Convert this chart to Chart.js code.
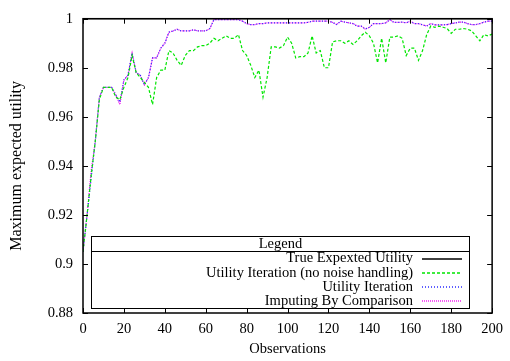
<!DOCTYPE html>
<html>
<head>
<meta charset="utf-8">
<script src="https://cdn.jsdelivr.net/npm/chart.js@4.4.0/dist/chart.umd.min.js"></script>
<style>
  html, body { margin: 0; padding: 0; background: #fff; }
</style>
</head>
<body>
<canvas id="grafico" width="510" height="361"></canvas>
<script>
// Eixo x: observações (a cada 2)
const observacoes = [0, 2, 4, 6, 8, 10, 12, 14, 16, 18, 20, 22, 24, 26, 28, 30, 32, 34, 36, 38,
  40, 42, 44, 46, 48, 50, 52, 54, 56, 58, 60, 62, 64, 66, 68, 70, 72, 74, 76, 78,
  80, 82, 84, 86, 88, 90, 92, 94, 96, 98, 100, 102, 104, 106, 108, 110, 112, 114, 116, 118,
  120, 122, 124, 126, 128, 130, 132, 134, 136, 138, 140, 142, 144, 146, 148, 150, 152, 154, 156, 158,
  160, 162, 164, 166, 168, 170, 172, 174, 176, 178, 180, 182, 184, 186, 188, 190, 192, 194, 196, 198, 200];

const utilidadeReal = [1, 1, 1, 1, 1, 1, 1, 1, 1, 1, 1, 1, 1, 1, 1, 1, 1, 1, 1, 1,
  1, 1, 1, 1, 1, 1, 1, 1, 1, 1, 1, 1, 1, 1, 1, 1, 1, 1, 1, 1,
  1, 1, 1, 1, 1, 1, 1, 1, 1, 1, 1, 1, 1, 1, 1, 1, 1, 1, 1, 1,
  1, 1, 1, 1, 1, 1, 1, 1, 1, 1, 1, 1, 1, 1, 1, 1, 1, 1, 1, 1,
  1, 1, 1, 1, 1, 1, 1, 1, 1, 1, 1, 1, 1, 1, 1, 1, 1, 1, 1, 1, 1];

const semRuido = [0.905, 0.92, 0.936, 0.95, 0.967, 0.972, 0.972, 0.972, 0.968, 0.967,
  0.972, 0.976, 0.985, 0.978, 0.976, 0.974, 0.972, 0.965, 0.976, 0.979,
  0.979, 0.987, 0.986, 0.983, 0.981, 0.985, 0.987, 0.987, 0.9885, 0.989,
  0.989, 0.990, 0.992, 0.991, 0.992, 0.993, 0.992, 0.992, 0.9935, 0.987,
  0.985, 0.981, 0.976, 0.979, 0.968, 0.976, 0.9885, 0.9885, 0.988, 0.989,
  0.9925, 0.990, 0.984, 0.9845, 0.9845, 0.986, 0.993, 0.986, 0.987, 0.980,
  0.980, 0.9905, 0.991, 0.991, 0.990, 0.991, 0.9895, 0.991, 0.993, 0.9945,
  0.993, 0.990, 0.982, 0.992, 0.982, 0.9925, 0.9925, 0.993, 0.992, 0.985,
  0.988, 0.988, 0.983, 0.987, 0.9935, 0.997, 0.9965, 0.997, 0.9965, 0.996,
  0.994, 0.9957, 0.9957, 0.996, 0.9957, 0.995, 0.993, 0.991, 0.9935, 0.993, 0.9937];

const iteracao = [0.905, 0.92, 0.935, 0.95, 0.968, 0.972, 0.972, 0.972, 0.969, 0.966,
  0.975, 0.977, 0.986, 0.978, 0.977, 0.973, 0.976, 0.984, 0.984, 0.988,
  0.990, 0.9945, 0.995, 0.9957, 0.995, 0.995, 0.995, 0.9955, 0.995, 0.995,
  0.995, 0.996, 0.9996, 0.9996, 0.9996, 0.9996, 0.9996, 0.9996, 0.9996, 0.999,
  0.998, 0.9976, 0.9976, 0.998, 0.998, 0.9983, 0.9983, 0.9983, 0.9983, 0.9983,
  0.9983, 0.9983, 0.9983, 0.9983, 0.9983, 0.9985, 0.999, 0.999, 0.999, 0.999,
  0.999, 0.9985, 0.9976, 0.999, 0.9986, 0.9983, 0.998, 0.997, 0.997, 0.9958,
  0.9965, 0.998, 0.998, 0.998, 0.9983, 0.9996, 0.9985, 0.9985, 0.9986, 0.9983,
  0.999, 0.998, 0.998, 0.9975, 0.997, 0.998, 0.9975, 0.9975, 0.9975, 0.9976,
  0.998, 0.9983, 0.9986, 0.9986, 0.998, 0.9976, 0.9976, 0.998, 0.9986, 0.999, 0.999];

const comparacao = [0.905, 0.92, 0.938, 0.95, 0.968, 0.972, 0.972, 0.972, 0.969, 0.965,
  0.975, 0.977, 0.986, 0.978, 0.977, 0.973, 0.976, 0.984, 0.984, 0.988,
  0.990, 0.9945, 0.995, 0.9957, 0.995, 0.995, 0.995, 0.9955, 0.995, 0.995,
  0.995, 0.996, 0.9996, 0.9996, 0.9996, 0.9996, 0.9996, 0.9996, 0.9996, 0.999,
  0.998, 0.9976, 0.9976, 0.998, 0.998, 0.9983, 0.9983, 0.9983, 0.9983, 0.9983,
  0.9983, 0.9983, 0.9983, 0.9983, 0.9983, 0.9985, 0.999, 0.999, 0.999, 0.999,
  0.999, 0.9985, 0.9976, 0.999, 0.9986, 0.9983, 0.998, 0.997, 0.997, 0.9958,
  0.9965, 0.998, 0.998, 0.998, 0.9983, 0.9996, 0.9985, 0.9985, 0.9986, 0.9983,
  0.999, 0.998, 0.998, 0.9975, 0.997, 0.998, 0.9975, 0.9975, 0.9975, 0.9976,
  0.998, 0.9983, 0.9986, 0.9986, 0.998, 0.9976, 0.9976, 0.998, 0.9986, 0.999, 0.999];

const rotulos = ['True Expexted Utility', 'Utility Iteration (no noise handling)', 'Utility Iteration', 'Imputing By Comparison'];
const cores = ['#000000', '#00e600', '#2a2aff', '#f000f0'];
const tracos = [[], [3, 2], [1, 2], [1, 1]];

const ticksX = [0, 20, 40, 60, 80, 100, 120, 140, 160, 180, 200];
const ticksY = [0.88, 0.9, 0.92, 0.94, 0.96, 0.98, 1];
const rotulosY = ['0.88', '0.9', '0.92', '0.94', '0.96', '0.98', '1'];

const fonte = '"Liberation Serif", "Times New Roman", serif';

function pares(valores) {
  return observacoes.map((x, i) => ({ x: x, y: valores[i] }));
}

// Ticks para dentro e moldura fechada, estilo gnuplot
const moldura = {
  id: 'moldura',
  afterDatasetsDraw(chart) {
    const ctx = chart.ctx;
    const a = chart.chartArea;
    const sx = chart.scales.x;
    const sy = chart.scales.y;
    ctx.save();
    ctx.strokeStyle = '#000';
    ctx.lineWidth = 1;
    ctx.setLineDash([]);
    ctx.beginPath();
    ticksX.forEach(v => {
      const px = Math.round(sx.getPixelForValue(v)) + 0.5;
      ctx.moveTo(px, a.bottom); ctx.lineTo(px, a.bottom - 5);
      ctx.moveTo(px, a.top); ctx.lineTo(px, a.top + 5);
    });
    ticksY.forEach(v => {
      const py = Math.round(sy.getPixelForValue(v)) + 0.5;
      ctx.moveTo(a.left, py); ctx.lineTo(a.left + 5, py);
      ctx.moveTo(a.right, py); ctx.lineTo(a.right - 5, py);
    });
    ctx.stroke();
    ctx.lineWidth = 1.5;
    ctx.strokeRect(a.left, a.top, a.right - a.left, a.bottom - a.top);
    ctx.restore();
  }
};

// Caixa de legenda
const legenda = {
  id: 'legenda',
  afterDraw(chart) {
    const ctx = chart.ctx;
    const x0 = 91.5, x1 = 469.5, y0 = 236.5, y1 = 308.5, sep = 251.5;
    ctx.save();
    ctx.fillStyle = '#fff';
    ctx.fillRect(x0, y0, x1 - x0, y1 - y0);
    ctx.strokeStyle = '#000';
    ctx.lineWidth = 1;
    ctx.setLineDash([]);
    ctx.strokeRect(x0, y0, x1 - x0, y1 - y0);
    ctx.beginPath();
    ctx.moveTo(x0, sep); ctx.lineTo(x1, sep);
    ctx.stroke();
    ctx.fillStyle = '#000';
    ctx.font = '14.5px ' + fonte;
    ctx.textBaseline = 'middle';
    ctx.textAlign = 'center';
    ctx.fillText('Legend', (x0 + x1) / 2, 244);
    ctx.textAlign = 'right';
    rotulos.forEach((texto, i) => {
      const y = 258.5 + i * 14.3;
      ctx.fillStyle = '#000';
      ctx.fillText(texto, 413, y);
      ctx.strokeStyle = cores[i];
      ctx.lineWidth = 1.3;
      ctx.setLineDash(tracos[i]);
      ctx.beginPath();
      ctx.moveTo(422, Math.round(y));
      ctx.lineTo(462, Math.round(y));
      ctx.stroke();
    });
    ctx.restore();
  }
};

const series = [utilidadeReal, semRuido, iteracao, comparacao];

new Chart(document.getElementById('grafico'), {
  type: 'line',
  data: {
    datasets: series.map((valores, i) => ({
      label: rotulos[i],
      data: pares(valores),
      borderColor: cores[i],
      borderWidth: 1.2,
      borderDash: tracos[i]
    }))
  },
  options: {
    responsive: false,
    animation: false,
    devicePixelRatio: 1,
    layout: { padding: { left: 0, top: 9, right: 12, bottom: 0 } },
    elements: { point: { radius: 0 }, line: { tension: 0 } },
    plugins: { legend: { display: false }, tooltip: { enabled: false } },
    scales: {
      x: {
        type: 'linear',
        min: 0, max: 200,
        afterBuildTicks: s => { s.ticks = ticksX.map(v => ({ value: v })); },
        afterFit: s => { s.height = 48; },
        grid: { display: false, drawTicks: false },
        border: { display: false },
        ticks: { color: '#000', padding: 7, maxRotation: 0, font: { family: fonte, size: 14.5 } },
        title: { display: true, text: 'Observations', color: '#000', padding: { top: 0, bottom: 3 }, font: { family: fonte, size: 14.5 } }
      },
      y: {
        type: 'linear',
        min: 0.88, max: 1,
        afterBuildTicks: s => { s.ticks = ticksY.map(v => ({ value: v })); },
        afterFit: s => { s.width = 83; },
        grid: { display: false, drawTicks: false },
        border: { display: false },
        ticks: {
          color: '#000', padding: 10, font: { family: fonte, size: 14.5 },
          callback: (v, i) => rotulosY[i]
        },
        title: { display: true, text: 'Maximum expected utility', color: '#000', padding: { top: 7, bottom: 0 }, font: { family: fonte, size: 16 } }
      }
    }
  },
  plugins: [moldura, legenda]
});
</script>
</body>
</html>
